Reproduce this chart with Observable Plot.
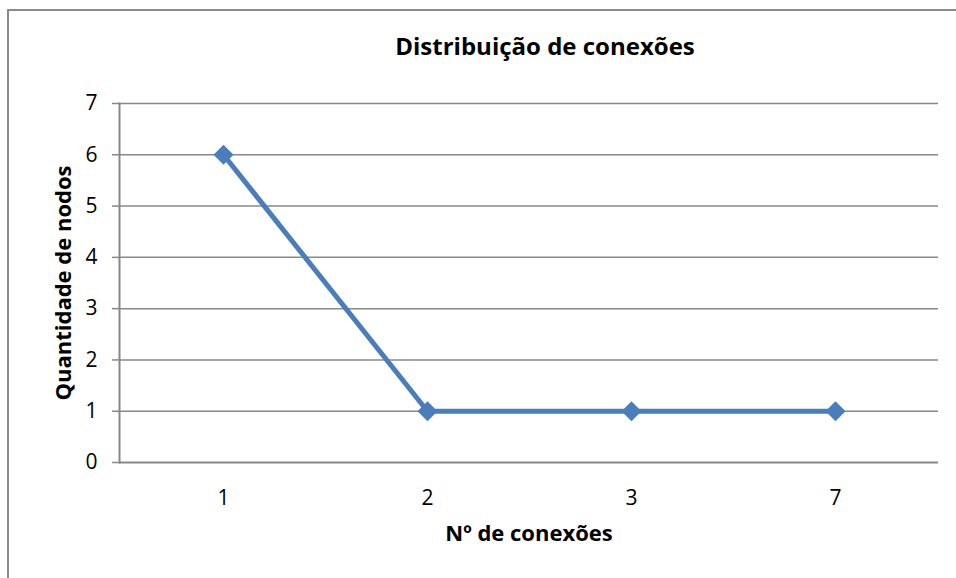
<!DOCTYPE html>
<html>
<head>
<meta charset="utf-8">
<script src="https://cdn.jsdelivr.net/npm/d3@7"></script>
<script src="https://cdn.jsdelivr.net/npm/@observablehq/plot@0.6"></script>
<style>
  html, body { margin: 0; padding: 0; background: #fff; overflow: hidden; }
  #wrap { position: relative; width: 956px; height: 578px; }
  #border { position: absolute; left: 7px; top: 9px; width: 1200px; height: 1200px; border: 2px solid #8a8a8a; box-sizing: border-box; }
  #chart { position: absolute; left: 0; top: 0; }
</style>
</head>
<body>
<div id="wrap"><div id="border"></div><div id="chart"></div></div>
<script>
const title = "Distribuição de conexões";
const xLabel = "Nº de conexões";
const yLabel = "Quantidade de nodos";
const categories = ["1", "2", "3", "7"];
const values = [6, 1, 1, 1];
const yTicks = [0, 1, 2, 3, 4, 5, 6, 7];

const data = categories.map((c, i) => ({x: c, y: values[i]}));
const font = "'Open Sans', sans-serif";
const lineColor = "#4a7ebb";
const gridColor = "#888888";

const plot = Plot.plot({
  width: 956,
  height: 578,
  marginLeft: 119,
  marginRight: 18,
  marginTop: 103,
  marginBottom: 116,
  style: {fontFamily: font, fontSize: "21px", color: "#000", background: "transparent"},
  x: {type: "point", domain: categories, padding: 0.5, label: null},
  y: {domain: [0, 7], ticks: yTicks, label: null},
  marks: [
    Plot.gridY(yTicks.filter(d => d > 0), {stroke: gridColor, strokeOpacity: 1, strokeWidth: 1.5}),
    Plot.axisY(yTicks, {tickSize: 7, tickPadding: 15, stroke: gridColor, strokeWidth: 1.5, fontSize: 21, tickFormat: d3.format("d"), label: null}),
    Plot.axisX({tickSize: 0, tickPadding: 28, fontSize: 21, label: null}),
    Plot.ruleY([0], {stroke: gridColor, strokeWidth: 2}),
    Plot.frame({anchor: "left", stroke: gridColor, strokeWidth: 2}),
    Plot.line(data, {x: "x", y: "y", stroke: lineColor, strokeWidth: 5}),
    Plot.dot(data, {x: "x", y: "y", symbol: "diamond2", r: 9, fill: lineColor, stroke: null}),
    Plot.text([title], {frameAnchor: "top", dx: 16, dy: -56, fontSize: 24, fontWeight: "bold", fill: "#000", textAnchor: "middle", lineAnchor: "middle"}),
    Plot.text([xLabel], {frameAnchor: "bottom", dy: 71, fontSize: 22, fontWeight: "bold", fill: "#000", textAnchor: "middle", lineAnchor: "middle"}),
    Plot.text([yLabel], {frameAnchor: "left", dx: -56, rotate: -90, fontSize: 22, fontWeight: "bold", fill: "#000", textAnchor: "middle", lineAnchor: "middle"})
  ]
});
document.getElementById("chart").appendChild(plot);
</script>
</body>
</html>
